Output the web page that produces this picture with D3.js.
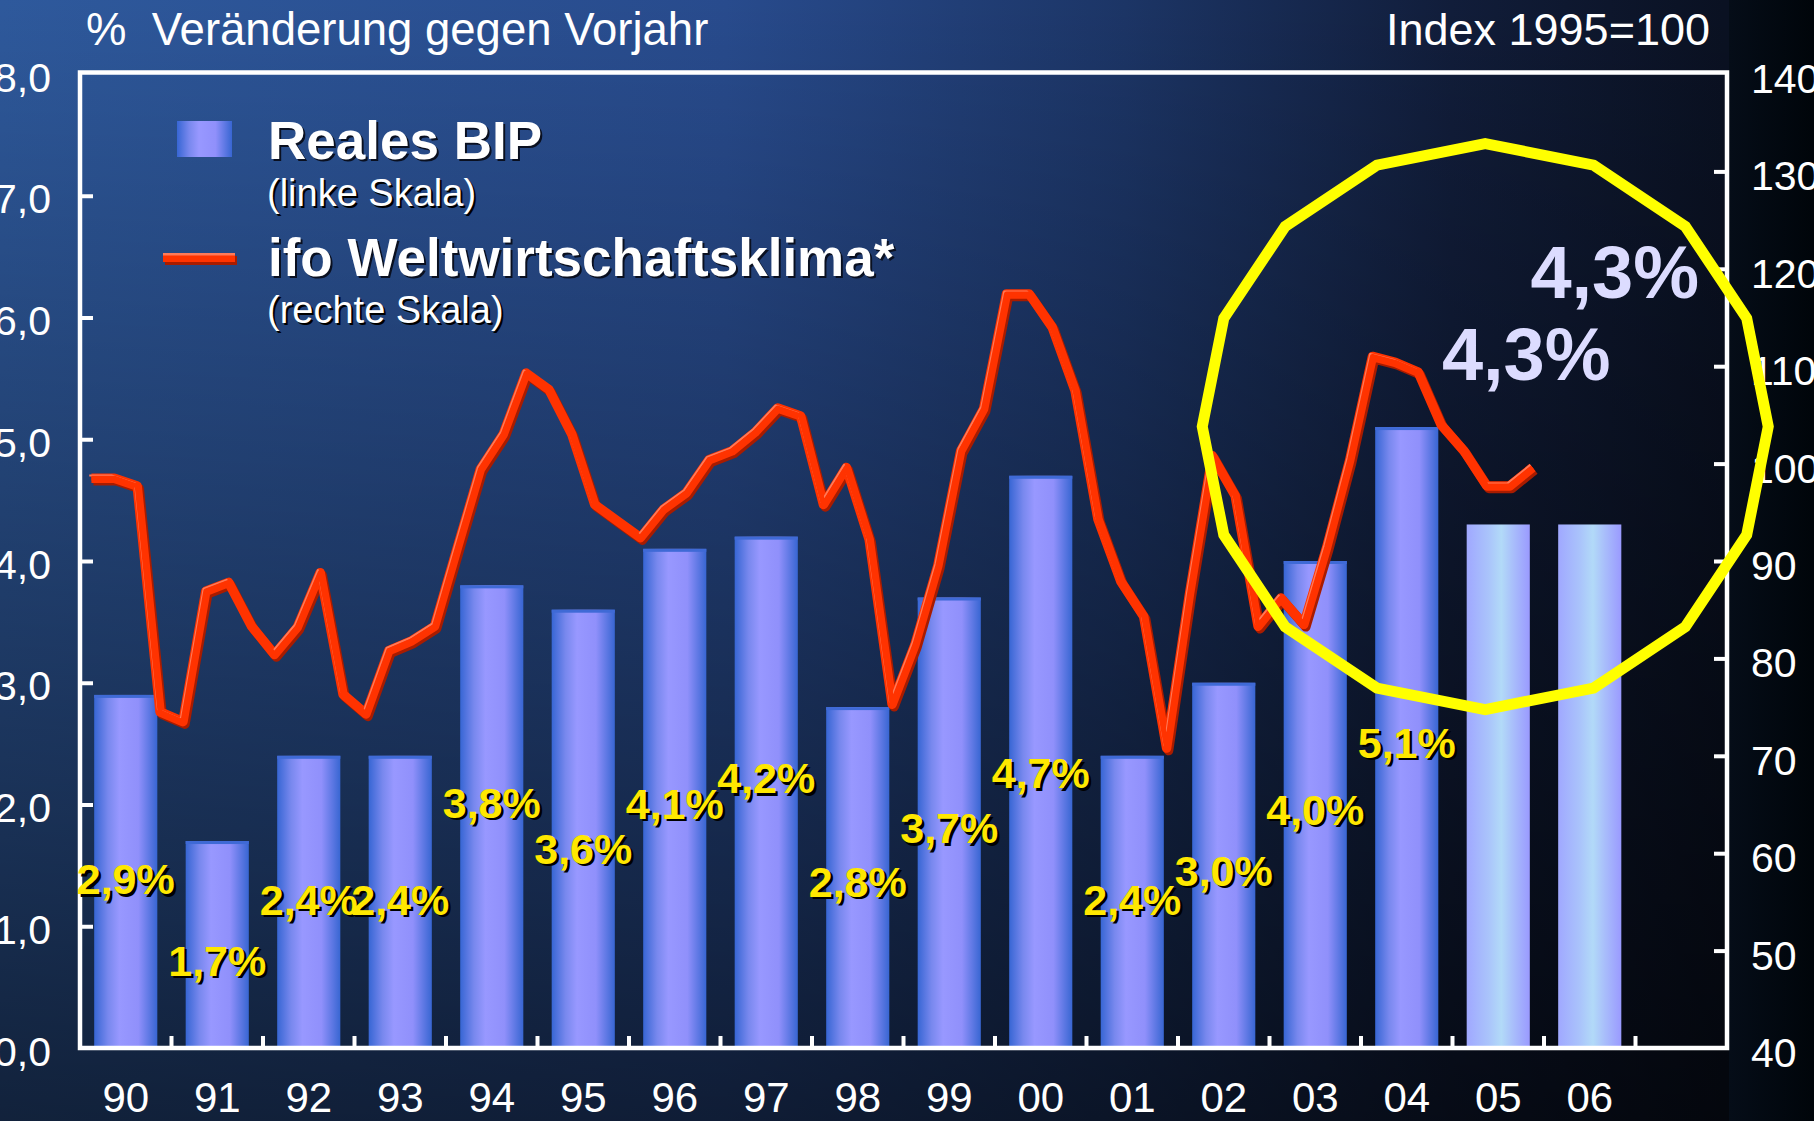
<!DOCTYPE html>
<html>
<head>
<meta charset="utf-8">
<script src="https://cdn.jsdelivr.net/npm/d3@7"></script>
<style>
  html, body { margin: 0; padding: 0; background: #000; }
  svg { display: block; }
  text { font-family: "Liberation Sans", Arial, Helvetica, sans-serif; }
</style>
</head>
<body>
<svg id="chart" width="1814" height="1121"></svg>
<script>
// ---------------- data ----------------
const years = ["90","91","92","93","94","95","96","97","98","99","00","01","02","03","04","05","06"];
const bipValues = [2.9, 1.7, 2.4, 2.4, 3.8, 3.6, 4.1, 4.2, 2.8, 3.7, 4.7, 2.4, 3.0, 4.0, 5.1, 4.3, 4.3];
const forecastYears = ["05", "06"];
// height (in % units of the left scale) at which each yellow value label sits
const labelLevels = [1.39, 0.72, 1.22, 1.22, 2.02, 1.64, 2.01, 2.22, 1.37, 1.81, 2.26, 1.22, 1.46, 1.96, 2.51];
// ifo world economic climate, quarterly from 1990 Q1 (index 1995 = 100)
const ifoStartYear = 1990;
const ifoValues = [
  98.5, 98.5, 97.7, 74.5,   73.5, 86.9, 87.8, 83.3,   80.4, 83.2, 88.8, 76.3,   74.3, 80.8, 81.8, 83.3,
  91.4, 99.4, 103.0, 109.3, 107.6, 103.0, 95.8, 94.1, 92.4, 95.3, 97.0, 100.4,  101.3, 103.2, 105.7, 104.9,
  95.8, 99.6, 92.2, 75.3,   81.4, 89.5, 101.3, 105.6, 117.4, 117.4, 114.0, 107.5, 94.3, 87.9, 84.3, 70.8,
  86.6, 100.8, 96.7, 83.3,  86.2, 83.5, 91.4, 100.3,  111.0, 110.4, 109.4, 104.0, 101.3, 97.7, 97.7, 99.6
];
const leftTicks = [0, 1, 2, 3, 4, 5, 6, 7, 8];
const rightTicks = [40, 50, 60, 70, 80, 90, 100, 110, 120, 130, 140];
const leftTitle = "%  Veränderung gegen Vorjahr";
const rightTitle = "Index 1995=100";
const legendBip = ["Reales BIP", "(linke Skala)"];
const legendIfo = ["ifo Weltwirtschaftsklima*", "(rechte Skala)"];
// highlighted forecast labels
const bigLabels = [{ year: "05", text: "4,3%", dx: 28, baseline: 380 }, { year: "06", text: "4,3%", dx: 25, baseline: 298 }];
const circleCenter = { year: "05", dx: -13, value: 103.8 };

// ---------------- layout ----------------
const W = 1814, H = 1121;
const plot = { left: 80, right: 1727, top: 74, bottom: 1048 };
const svg = d3.select("#chart");
const defs = svg.append("defs");

const fmt = v => d3.format(".1f")(v).replace(".", ",") + "%";

const x = d3.scaleBand().domain([...years, "_"]).range([plot.left, plot.right])
  .paddingInner(0.31).paddingOuter(0.155);
const xTime = d3.scaleLinear().domain([1990, 2008]).range([plot.left, plot.right]);
const yL = d3.scaleLinear().domain([0, 8]).range([plot.bottom, plot.top]);
const yR = d3.scaleLinear().domain([40, 140]).range([plot.bottom, plot.top]);

// ---------------- gradients ----------------
function lin(id, stops, x2 = "100%", y2 = "0%") {
  const g = defs.append("linearGradient").attr("id", id)
    .attr("x1", "0%").attr("y1", "0%").attr("x2", x2).attr("y2", y2);
  stops.forEach(s => g.append("stop").attr("offset", s[0]).attr("stop-color", s[1])
    .attr("stop-opacity", s[2] === undefined ? 1 : s[2]));
}
lin("bgH", [["0%", "#2e599c"], ["40%", "#284b8d"], ["62%", "#1c3566"], ["80%", "#111d3a"], ["95%", "#0a1122"]]);
lin("bgV", [["0%", "#000", 0], ["100%", "#000", 0.62]], "0%", "100%");
lin("bgR", [["0%", "#050d18"], ["100%", "#00050a"]]);
lin("barG", [["0%", "#3766d4"], ["22%", "#7888ee"], ["40%", "#9898ff"], ["70%", "#9090fb"], ["100%", "#3866d2"]]);
lin("barF", [["0%", "#a0a8ff"], ["35%", "#aac4fb"], ["55%", "#b2daf8"], ["75%", "#a8bcfb"], ["100%", "#9a9aff"]]);

// ---------------- background ----------------
svg.append("rect").attr("width", W).attr("height", H).attr("fill", "url(#bgH)");
svg.append("rect").attr("width", W).attr("height", H).attr("fill", "url(#bgV)");
svg.append("rect").attr("x", 1729).attr("width", W - 1729).attr("height", H).attr("fill", "url(#bgR)");

// ---------------- bars ----------------
const bars = svg.append("g");
years.forEach((yr, i) => {
  const v = bipValues[i];
  const fc = forecastYears.includes(yr);
  bars.append("rect")
    .attr("x", x(yr)).attr("width", x.bandwidth())
    .attr("y", yL(v)).attr("height", yL(0) - yL(v))
    .attr("fill", fc ? "url(#barF)" : "url(#barG)");
  if (!fc) {
    bars.append("rect")
      .attr("x", x(yr)).attr("width", x.bandwidth())
      .attr("y", yL(v)).attr("height", 3)
      .attr("fill", "#3f6ad6");
  }
});

// ---------------- frame & axes ----------------
const axisG = svg.append("g");
axisG.append("rect")
  .attr("x", plot.left).attr("y", 72.5)
  .attr("width", plot.right - plot.left).attr("height", plot.bottom - 72.5)
  .attr("fill", "none").attr("stroke", "#fff").attr("stroke-width", 4.5);

const leftAxis = axisG.append("g").attr("transform", `translate(${plot.left},0)`)
  .call(d3.axisLeft(yL).tickValues(leftTicks.slice(1, -1)).tickSize(-13).tickPadding(29)
    .tickFormat(d => d3.format(".1f")(d).replace(".", ",")));
const leftLabels = axisG.append("g").attr("transform", `translate(${plot.left},0)`)
  .call(d3.axisLeft(yL).tickValues(leftTicks).tickSize(0).tickPadding(29)
    .tickFormat(d => d3.format(".1f")(d).replace(".", ",")));
leftAxis.selectAll("text").remove();
const rightAxis = axisG.append("g").attr("transform", `translate(${plot.right},0)`)
  .call(d3.axisRight(yR).tickValues(rightTicks.slice(1, -1)).tickSize(-13).tickPadding(24));
rightAxis.selectAll("text").remove();
const rightLabels = axisG.append("g").attr("transform", `translate(${plot.right},0)`)
  .call(d3.axisRight(yR).tickValues(rightTicks).tickSize(0).tickPadding(24));
const bottomLabels = axisG.append("g").attr("transform", `translate(0,${plot.bottom})`)
  .call(d3.axisBottom(x).tickValues(years).tickSize(0).tickPadding(0));

[leftAxis, rightAxis, leftLabels, rightLabels, bottomLabels].forEach(g => {
  g.select(".domain").remove();
  g.selectAll("line").attr("stroke", "#fff").attr("stroke-width", 4);
  g.selectAll("text").attr("fill", "#fff").style("font-size", "41px")
    .style("font-family", "'Liberation Sans', Arial, sans-serif");
});
leftLabels.selectAll("text").attr("dy", "0.42em");
rightLabels.selectAll("text").attr("dy", "0.45em");
bottomLabels.selectAll("text").attr("y", 64).attr("dy", 0).style("font-size", "42px");

// boundary ticks on the x axis
const boundaries = d3.range(1, years.length + 1).map(i => x.step() * i + plot.left);
axisG.selectAll(".xb").data(boundaries).join("line")
  .attr("x1", d => d).attr("x2", d => d)
  .attr("y1", plot.bottom).attr("y2", plot.bottom - 12)
  .attr("stroke", "#fff").attr("stroke-width", 4);

// ---------------- titles ----------------
svg.append("text").attr("x", 86).attr("y", 45).attr("fill", "#fff")
  .style("font-size", "45.5px").style("white-space", "pre").attr("xml:space", "preserve").text(leftTitle);
svg.append("text").attr("x", 1710).attr("y", 45).attr("fill", "#fff")
  .attr("text-anchor", "end").style("font-size", "45px").text(rightTitle);

// ---------------- value labels ----------------
const lab = svg.append("g");
function shadowText(g, xp, yp, txt, opts) {
  g.append("text").attr("x", xp + opts.sh).attr("y", yp + opts.sh)
    .attr("text-anchor", opts.anchor || "middle").attr("fill", opts.shadow)
    .style("font-size", opts.size + "px").style("font-weight", opts.weight || "normal").text(txt);
  return g.append("text").attr("x", xp).attr("y", yp)
    .attr("text-anchor", opts.anchor || "middle").attr("fill", opts.fill)
    .style("font-size", opts.size + "px").style("font-weight", opts.weight || "normal").text(txt);
}
labelLevels.forEach((lv, i) => {
  const yr = years[i];
  const cx = x(yr) + x.bandwidth() / 2;
  shadowText(lab, cx, yL(lv) + 15.5, fmt(bipValues[i]),
    { size: 43, weight: "bold", fill: "#ffe800", shadow: "#000", sh: 2.5 });
});

// ---------------- ifo line ----------------
const ifoPts = ifoValues.map((v, k) => [xTime(ifoStartYear + (k + 0.5) / 4), yR(v)]);
const lineGen = d3.line();
const lineG = svg.append("g").attr("fill", "none").attr("stroke-linejoin", "round").attr("stroke-linecap", "butt");
lineG.append("path").attr("d", lineGen(ifoPts)).attr("transform", "translate(2,2.5)")
  .attr("stroke", "#a81c00").attr("stroke-width", 9.5);
lineG.append("path").attr("d", lineGen(ifoPts))
  .attr("stroke", "#ff3300").attr("stroke-width", 9.5);
lineG.append("path").attr("d", lineGen(ifoPts)).attr("transform", "translate(-2.2,-2.6)")
  .attr("stroke", "#ff7a58").attr("stroke-width", 2);
lineG.append("path").attr("d", lineGen(ifoPts))
  .attr("stroke", "#ff3300").attr("stroke-width", 5);

// ---------------- legend ----------------
const leg = svg.append("g");
leg.append("rect").attr("x", 177).attr("y", 121).attr("width", 55).attr("height", 36).attr("fill", "url(#barG)");
leg.append("rect").attr("x", 165).attr("y", 256).attr("width", 72).attr("height", 9).attr("fill", "#a81c00");
leg.append("rect").attr("x", 163).attr("y", 253).attr("width", 72).attr("height", 9).attr("fill", "#ff3300");
leg.append("rect").attr("x", 163).attr("y", 253).attr("width", 72).attr("height", 2.5).attr("fill", "#ff7a58");
shadowText(leg, 268, 159, legendBip[0], { size: 53, weight: "bold", fill: "#fff", shadow: "#0a1020", sh: 2, anchor: "start" });
shadowText(leg, 267, 206, legendBip[1], { size: 38, fill: "#fff", shadow: "#000", sh: 2, anchor: "start" });
shadowText(leg, 268, 276, legendIfo[0], { size: 53, weight: "bold", fill: "#fff", shadow: "#0a1020", sh: 2, anchor: "start" });
shadowText(leg, 267, 323, legendIfo[1], { size: 38, fill: "#fff", shadow: "#000", sh: 2, anchor: "start" });

// ---------------- highlight circle ----------------
const cc = [x(circleCenter.year) + x.bandwidth() / 2 + circleCenter.dx, yR(circleCenter.value)];
const r = 283;
const poly = d3.range(16).map(i => {
  const a = -Math.PI / 2 + i * 2 * Math.PI / 16;
  return [cc[0] + r * Math.cos(a), cc[1] + r * Math.sin(a)];
});
svg.append("path").attr("d", d3.line()(poly) + "Z")
  .attr("fill", "none").attr("stroke", "#ffff00").attr("stroke-width", 11).attr("stroke-linejoin", "miter");

// ---------------- big forecast labels ----------------
bigLabels.forEach(b => {
  svg.append("text")
    .attr("x", x(b.year) + x.bandwidth() / 2 + b.dx).attr("y", b.baseline)
    .attr("text-anchor", "middle").attr("fill", "#dcdcff")
    .style("font-size", "74px").style("font-weight", "bold").text(b.text);
});
</script>
</body>
</html>
